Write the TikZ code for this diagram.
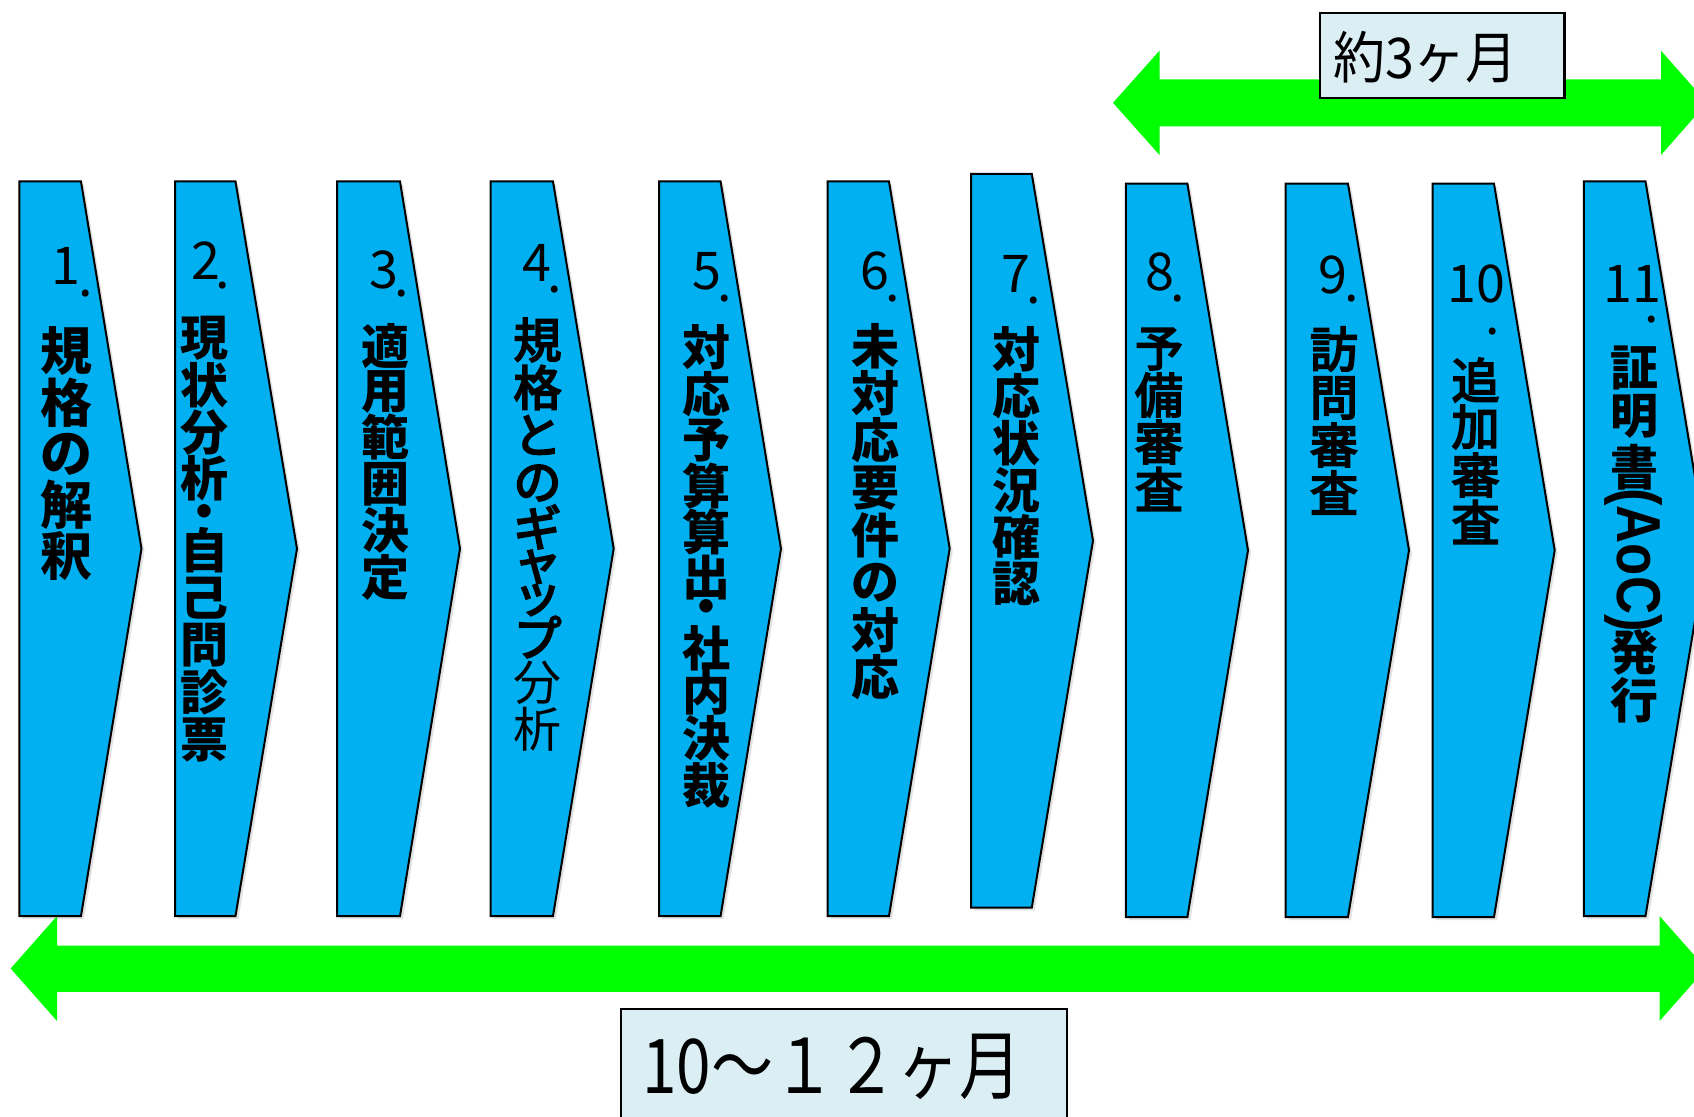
\documentclass[tikz,border=0pt]{standalone}
\usepackage{fontspec}
\newfontfamily\jp{Noto Sans CJK JP}
\newfontfamily\jpm[FakeBold=4]{Noto Sans CJK JP}
\newfontfamily\latn{Liberation Sans}
\usetikzlibrary{shadows}
\definecolor{chevblue}{HTML}{00B0F0}
\definecolor{arrgreen}{HTML}{00FF00}
\definecolor{lblfill}{HTML}{DAEEF3}
\newcommand\chevron[5]{%
  \draw[chevshape] (#1,#4) -- (#2,#4) -- (#3,{(#4+#5)/2}) -- (#2,#5) -- (#1,#5) -- cycle;}
\newcommand\vcol[4]{%
  \foreach \yy/\cc [count=\i] in {#3} {\node[#4] (#1c\i) at (#2,\yy) {\cc};}}
\begin{document}
\begin{tikzpicture}[x=0.5pt,y=-0.5pt,
  chevshape/.style={draw=black, line width=1pt, fill=chevblue, line join=miter,
    drop shadow={opacity=0.22, shadow xshift=1.5pt, shadow yshift=-1.5pt}},
  greenarrow/.style={fill=arrgreen, draw=none},
  lblbox/.style={draw=black, line width=1.2pt, fill=lblfill},
  jtbold/.style={font=\jp\bfseries\fontsize{24}{24}\selectfont, inner sep=0pt},
  jtbig/.style={font=\jp\bfseries\fontsize{26}{26}\selectfont, inner sep=0pt},
  jtreg/.style={font=\jp\fontsize{24}{24}\selectfont, inner sep=0pt},
  jtmed/.style={font=\jpm\fontsize{24}{24}\selectfont, inner sep=0pt},
  numtxt/.style={font=\jp\fontsize{26}{26}\selectfont, inner sep=0pt},
  dottxt/.style={font=\jp\fontsize{26}{26}\selectfont, inner sep=0pt}]
\useasboundingbox (0,0) rectangle (1694,1117);
\clip (0,0) rectangle (1694,1117);
\fill[white] (0,0) rectangle (1694,1117);

% green arrows
\path[greenarrow] (1113,102.8) -- (1159.5,50.7) -- (1159.5,79.3) -- (1661,79.3) -- (1661,50.7)
  -- (1707,102.8) -- (1661,155) -- (1661,126.3) -- (1159.5,126.3) -- (1159.5,155) -- cycle;
\path[greenarrow] (10.7,968.5) -- (57,916) -- (57,945.5) -- (1659.5,945.5) -- (1659.5,916)
  -- (1706,968.5) -- (1659.5,1021) -- (1659.5,991.8) -- (57,991.8) -- (57,1021) -- cycle;

% chevrons
\chevron{19.4}{81}{141.5}{181.5}{916}
\chevron{175}{235.5}{297}{181.5}{916}
\chevron{337}{400}{460}{181.5}{916}
\chevron{490.5}{553}{613.7}{181.5}{916}
\chevron{659}{720.6}{781}{181.5}{916}
\chevron{827.6}{889}{949.7}{181.5}{916}
\chevron{971}{1031.8}{1093}{174}{907.5}
\chevron{1125.8}{1187.4}{1248}{183.7}{917}
\chevron{1285.7}{1348}{1409}{183.7}{917}
\chevron{1432.6}{1494}{1554.7}{183.7}{917}
\chevron{1583.9}{1645.5}{1707}{181.5}{916}

% numbers
\node[numtxt] (n1) at (66,265.5) {1};   \node[dottxt] (d1) at (86,294) {.};
\node[numtxt] (n2) at (205.5,261) {2};  \node[dottxt] (d2) at (223,286) {.};
\node[numtxt] (n3) at (384,270) {3};    \node[dottxt] (d3) at (402,294) {.};
\node[numtxt] (n4) at (537,262.5) {4};  \node[dottxt] (d4) at (555,290) {.};
\node[numtxt] (n5) at (707,271.7) {5};  \node[dottxt] (d5) at (724.3,299) {.};
\node[numtxt] (n6) at (875,271) {6};    \node[dottxt] (d6) at (892.7,299) {.};
\node[numtxt] (n7) at (1015.7,274) {7}; \node[dottxt] (d7) at (1034,301) {.};
\node[numtxt] (n8) at (1160,271.7) {8}; \node[dottxt] (d8) at (1178,299) {.};
\node[numtxt] (n9) at (1333,275) {9};   \node[dottxt] (d9) at (1351.7,299) {.};
\node[numtxt] (n10) at (1476,284) {10}; \node[dottxt] (d10) at (1493,332) {.};
\node[numtxt] (n11) at (1632.5,284) {11}; \node[dottxt] (d11) at (1651.7,320) {.};

% vertical texts
\vcol{a}{66}{351/規,403/格,454/の,505/解,556/釈}{jtbig}
\vcol{b}{204}{338/現,385/状,432.5/分,478/析,516.7/・,550/自,598/己,645/問,692.5/診,740/票}{jtbold}
\vcol{c}{385.7}{345.7/適,391.5/用,437.5/範,484/囲,530/決,577/定}{jtbold}
\vcol{d}{537.5}{340/規,387.5/格,435/と,483/の,527/ギ,567/ャ,600/ッ,637/プ}{jtmed}
\vcol{dd}{537.5}{683/分,729/析}{jtreg}
\vcol{e}{706.7}{347.5/対,394/応,440/予,486/算,532.5/算,577.5/出,612/・,648/社,692/内,738/決,785/裁}{jtbold}
\vcol{f}{875}{346/未,393.3/対,440.6/応,488/要,535/件,582.6/の,630/対,677/応}{jtbold}
\vcol{g}{1016.7}{349/対,396/応,443/状,490/況,537/確,584/認}{jtbold}
\vcol{h}{1159}{349/予,395/備,442/審,489/査}{jtmed}
\vcol{i}{1334}{349/訪,398/問,445/審,492.5/査}{jtmed}
\vcol{j}{1475.6}{380/追,427/加,475/審,522/査}{jtmed}
\vcol{k}{1634}{368/証,416/明,467/書}{jtbold}
\node[font=\latn\bfseries\fontsize{31}{31}\selectfont, inner sep=0pt, rotate=-90] (kaoc) at (1634,560) {\scalebox{0.85}[1]{(AoC)}};
\vcol{kk}{1634}{652/発,700/行}{jtbold}

% label boxes
\draw[lblbox] (1319.7,13) rectangle (1564.4,98.3);
\node[font=\jp\fontsize{26}{26}\selectfont, inner sep=0pt] (top) at (1425.5,57) {\scalebox{1}[1.08]{約3ヶ月}};
\draw[lblbox, line width=1pt] (621,1009) rectangle (1066.7,1130);
\node[font=\jp\fontsize{32}{32}\selectfont, inner sep=0pt] (bottom) at (832,1067) {\scalebox{0.97}[1.18]{10～１２ヶ月}};
\end{tikzpicture}
\end{document}
